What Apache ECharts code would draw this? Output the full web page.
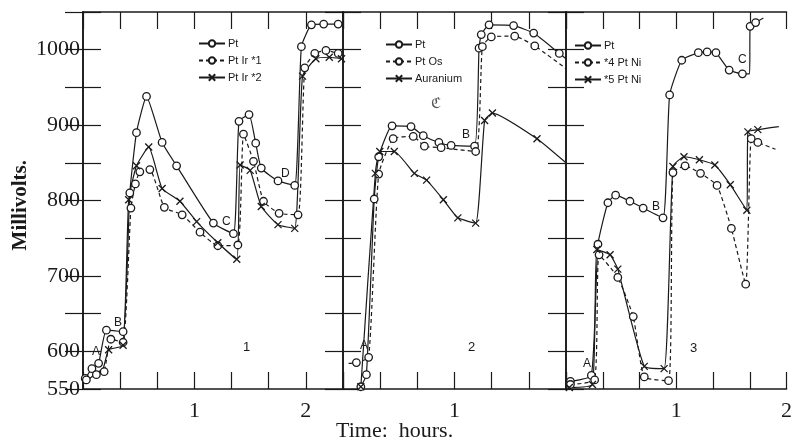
<!DOCTYPE html>
<html>
<head>
<meta charset="utf-8">
<script src="https://cdn.jsdelivr.net/npm/echarts@6/dist/echarts.min.js"></script>
<style>
html,body{margin:0;padding:0;background:#fff;}
#chart{width:795px;height:442px;}
</style>
</head>
<body>
<div id="chart"></div>
<script>
// ---- data: [time in hours, millivolts, (0 = curve point without a plotted marker)] ----
const yTickLabels = [550, 600, 700, 800, 900, 1000];
const xTickLabels = [[1, 2], [1], [1, 2]];   // hour labels shown under each panel
const panelNames = ['1', '2', '3'];

// Panel 1
const p1_Pt = [[0.02,564],[0.08,577],[0.14,584],[0.21,628],[0.36,626],[0.42,810],[0.48,890],[0.57,938],[0.71,877],[0.84,846],[1.17,770],[1.35,756],[1.40,905],[1.49,914],[1.55,876],[1.60,843],[1.75,826],[1.90,820],[1.96,1004],[2.05,1033],[2.16,1034],[2.29,1034]];
const p1_PtIr1 = [[0.03,562],[0.12,569],[0.19,573],[0.25,616],[0.36,612],[0.43,790],[0.47,822],[0.51,838],[0.60,841],[0.73,791],[0.89,781],[1.05,758],[1.21,740],[1.39,741],[1.44,888],[1.53,852],[1.62,799],[1.76,783],[1.93,781],[1.99,976],[2.08,995],[2.18,999],[2.29,995]];
const p1_PtIr2 = [[0.01,558,0],[0.11,570,0],[0.18,577,0],[0.23,602],[0.36,608],[0.41,801],[0.48,846],[0.59,871],[0.71,816],[0.87,799],[1.02,772],[1.21,744],[1.38,722],[1.41,847],[1.50,840],[1.60,792],[1.75,768],[1.90,763],[1.97,965],[2.09,988],[2.21,990],[2.32,988]];

// Panel 2
const p2_Pt = [[0.16,553],[0.21,569],[0.28,802],[0.32,858],[0.44,899],[0.61,898],[0.72,886],[0.86,877],[0.97,873],[1.18,872],[1.22,1002],[1.24,1020],[1.31,1033],[1.53,1032],[1.71,1022],[1.94,995],[2.0,988,0]];
const p2_PtOs = [[0.05,584,0],[0.12,585],[0.23,592],[0.32,835],[0.45,882],[0.63,885],[0.73,872],[0.88,870],[1.19,865],[1.25,1004],[1.33,1017],[1.54,1018],[1.72,1005],[2.0,975,0]];
const p2_Auranium = [[0.16,553],[0.29,836],[0.33,865],[0.46,865],[0.64,836],[0.75,827],[0.90,801],[1.03,777],[1.19,770],[1.27,906],[1.34,916],[1.74,882],[2.0,850,0]];

// Panel 3
const p3_Pt = [[0.04,560],[0.23,568],[0.29,742],[0.38,797],[0.45,807],[0.58,799],[0.70,790],[0.88,777],[0.94,940],[1.05,986],[1.20,996],[1.28,997],[1.36,996],[1.48,973],[1.60,968],[1.665,968,0],[1.67,1031],[1.72,1036],[1.79,1042,0]];
const p3_Ni4 = [[0.04,556],[0.26,562],[0.30,728],[0.47,698],[0.61,646],[0.71,566],[0.93,561],[0.97,837],[1.08,846],[1.22,836],[1.37,820],[1.50,763],[1.63,689],[1.68,882],[1.74,877],[1.90,868,0]];
const p3_Ni5 = [[0.03,552],[0.24,556],[0.28,735],[0.40,728],[0.47,709],[0.71,580],[0.89,577],[0.97,845],[1.07,858],[1.21,854],[1.35,847],[1.49,821],[1.64,787],[1.65,891],[1.74,894],[1.93,898,0]];

const panelSeries = [
  [{name:'Pt', data:p1_Pt, kind:'solidO'}, {name:'Pt Ir *1', data:p1_PtIr1, kind:'dashO'}, {name:'Pt Ir *2', data:p1_PtIr2, kind:'solidX'}],
  [{name:'Pt', data:p2_Pt, kind:'solidO'}, {name:'Pt Os', data:p2_PtOs, kind:'dashO'}, {name:'Auranium', data:p2_Auranium, kind:'solidX'}],
  [{name:'Pt', data:p3_Pt, kind:'solidO'}, {name:'*4 Pt Ni', data:p3_Ni4, kind:'dashO'}, {name:'*5 Pt Ni', data:p3_Ni5, kind:'solidX'}]
];

// ---- layout ----
const INK = '#1a1a1a';
const SERIF = '"Liberation Serif", "DejaVu Serif", serif';
const SANS = '"Liberation Sans", "DejaVu Sans", sans-serif';
const grids = [
  {left:83, top:12, width:260, height:377},
  {left:343, top:12, width:223, height:377},
  {left:566, top:12, width:222, height:377}
];
const xMaxMin = [140, 120, 120]; // minutes

const xAxis = [], yAxis = [], series = [], legend = [];
grids.forEach((g, i) => {
  const base = {
    gridIndex:i, type:'value', min:0, max:xMaxMin[i], interval:20,
    axisLine:{show:true, lineStyle:{color:INK, width:1.6}},
    axisTick:{show:true, inside:true, length:17, lineStyle:{color:INK, width:1.2}},
    splitLine:{show:false}
  };
  xAxis.push(Object.assign({}, base, {
    position:'bottom',
    axisLabel:{show:true, margin:11, fontFamily:SERIF, fontSize:22, color:INK,
      formatter:v => { const h = v/60; return xTickLabels[i].some(t => Math.abs(t-h)<1e-6) ? String(Math.round(h)) : ''; }}
  }));
  xAxis.push(Object.assign({}, base, {position:'top', axisLabel:{show:false}}));
  const yb = {
    gridIndex:i, type:'value', min:550, max:1050, interval:50,
    axisLine:{show:true, lineStyle:{color:INK, width:1.6}},
    axisTick:{show:true, inside:true, length:18, lineStyle:{color:INK, width:1.2}},
    splitLine:{show:false}
  };
  yAxis.push(Object.assign({}, yb, {
    position:'left',
    axisLabel:{show:i===0, margin:3, fontFamily:SERIF, fontSize:22, color:INK,
      formatter:v => yTickLabels.indexOf(v) >= 0 ? String(v) : ''}
  }));
  yAxis.push(Object.assign({}, yb, {position:'right', axisLabel:{show:false}}));
});

const xSym = 'path://M0,0L10,10M10,0L0,10';
panelSeries.forEach((list, i) => {
  list.forEach(s => {
    const isX = s.kind === 'solidX';
    series.push({
      type:'line', name:s.name, xAxisIndex:i*2, yAxisIndex:i*2,
      smooth:0.15,
      symbol: isX ? xSym : 'circle',
      symbolSize: isX ? 7 : 7.5,
      showSymbol:true,
      lineStyle:{color:INK, width:1.2, type: s.kind === 'dashO' ? [4,3] : 'solid'},
      itemStyle:{color: isX ? 'rgba(0,0,0,0)' : '#fff', borderColor:INK, borderWidth:1.3},
      emphasis:{disabled:true},
      data: s.data.map(p => p[2] === 0 ? {value:[p[0]*60, p[1]], symbol:'none'} : [p[0]*60, p[1]])
    });
  });
});

const legendPos = [{left:193, top:33}, {left:380, top:34}, {left:569, top:35}];
legendPos.forEach((lp, i) => {
  legend.push({
    left:lp.left, top:lp.top, orient:'vertical', itemWidth:26, itemHeight:8, itemGap:6,
    selectedMode:false,
    textStyle:{fontFamily:SANS, fontSize:11, color:INK, padding:[0,0,0,-2]},
    data: panelSeries[i].map(s => s.name)
  });
});

const txt = (x, y, t, size, extra) => Object.assign({
  type:'text', left:x, top:y, silent:true,
  style:{text:t, fill:INK, font:(size||12) + 'px ' + SANS}
}, extra || {});

const graphic = [
  // point letters
  txt(92, 346, 'A'), txt(114, 317, 'B'), txt(222, 216, 'C'), txt(281, 168, 'D'),
  txt(360, 340, 'A'), txt(462, 129, 'B'),
  txt(583, 358, 'A'), txt(652, 201, 'B'), txt(738, 54, 'C'),
  // panel numbers
  txt(243, 341, panelNames[0], 13), txt(468, 341, panelNames[1], 13), txt(690, 342, panelNames[2], 13),
  {type:'text', left:431, top:97, silent:true, style:{text:'ℭ', fill:'#555', font:'15px "DejaVu Serif", serif'}},
  // axis titles
  {type:'text', left:10, top:160, rotation:Math.PI/2, silent:true,
    style:{text:'Millivolts.', fill:INK, font:'bold 21px ' + SERIF}},
  {type:'text', left:336, top:420, silent:true,
    style:{text:'Time:  hours.', fill:INK, font:'22px ' + SERIF}}
];

const chart = echarts.init(document.getElementById('chart'), null, {renderer:'canvas'});
chart.setOption({
  animation:false,
  backgroundColor:'#fff',
  grid:grids,
  xAxis, yAxis, series, legend, graphic
});
</script>
</body>
</html>
